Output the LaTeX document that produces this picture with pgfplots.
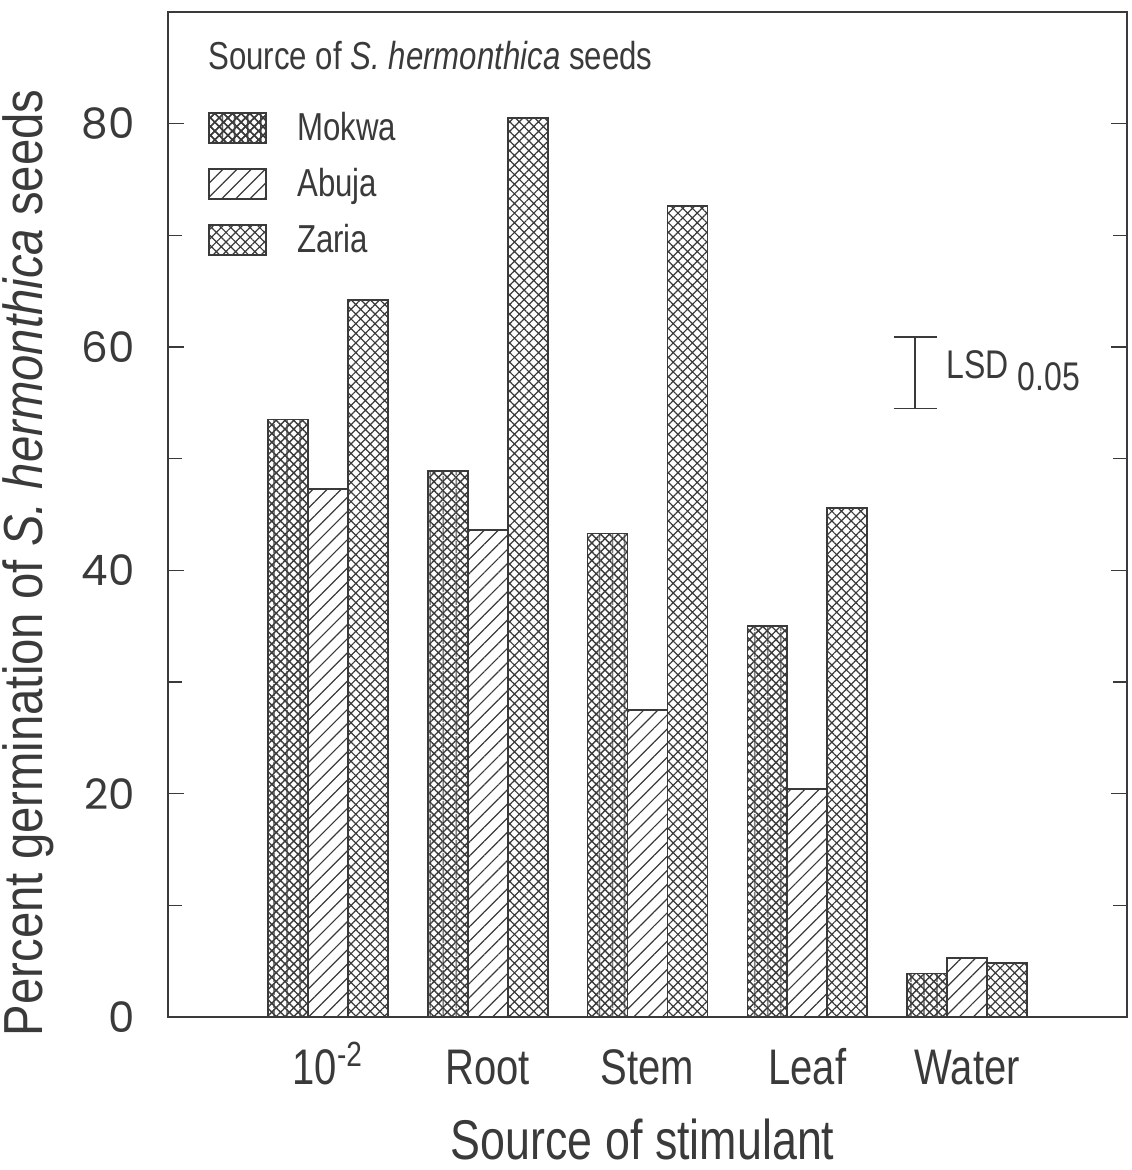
\documentclass[border=0pt]{standalone}
\usepackage{pgfplots}
\pgfplotsset{compat=1.18}
\usetikzlibrary{patterns.meta}
\usepackage{fontspec}
\setmainfont{Liberation Sans}[FakeStretch=0.8]
\newfontfamily\ylfont{Liberation Sans}[FakeStretch=0.86]
\newfontfamily\tickfont{Poppins}
\definecolor{ink}{HTML}{3A3A3A}
\pgfplotstableread{
x mokwa abuja zaria
0 53.5 47.3 64.2
1 48.9 43.6 80.5
2 43.3 27.5 72.6
3 35.0 20.4 45.6
4 3.9 5.3 4.8
}\data
\tikzset{
  mokA/.style={pattern={Hatch[angle=45,distance=3.1pt,line width=0.7pt]},pattern color=ink},
  mokB/.style={pattern={Lines[angle=90,distance=6.5pt,line width=0.7pt]},pattern color=ink},
  abu/.style={pattern={Lines[angle=45,distance=5pt,line width=0.6pt]},pattern color=ink},
  zar/.style={pattern={Hatch[angle=45,distance=3.4pt,line width=0.6pt]},pattern color=ink},
}
\begin{document}
\begin{tikzpicture}
\begin{axis}[
  name=ax,
  scale only axis,
  width=479.5pt, height=502.5pt,
  xmin=-1, xmax=5, ymin=0, ymax=90,
  xtick={0,1,2,3,4},
  xticklabels={10\textsuperscript{-2},Root,Stem,Leaf,Water},
  xtick style={draw=none},
  ytick={0,20,40,60,80},
  minor y tick num=1,
  major tick length=8pt, minor tick length=7pt,
  tick style={ink, line width=0.8pt},
  axis line style={ink, line width=1pt},
  /pgf/number format/assume math mode=true,
  xticklabel style={font=\fontsize{25}{27}\selectfont, anchor=base, yshift=-34pt, text=ink},
  yticklabel style={font=\tickfont\fontsize{21}{21}\selectfont, anchor=east, inner sep=0pt, xshift=-16.5pt, text=ink},
  xlabel={Source of stimulant},
  xlabel style={at={([yshift=-61pt]axis description cs:0.495,0)}, anchor=center, font=\fontsize{28}{30}\selectfont, text=ink},
  ylabel={Percent germination of \textit{S. hermonthica} seeds},
  ylabel style={at={([xshift=-70pt]axis description cs:0,0.452)}, anchor=center, rotate=0, font=\ylfont\fontsize{27.5}{29}\selectfont, text=ink},
  legend cell align=left,
  legend style={at={(axis description cs:0.0417,0.913)}, anchor=north west, draw=none, fill=none,
    inner sep=0pt, row sep=0pt, column sep=15pt,
    nodes={minimum height=28pt, inner sep=0pt},
    font=\fontsize{19.5}{20}\selectfont, text=ink},
]
\addplot[ybar, bar width=0.25, bar shift=-0.25, draw=ink, line width=0.9pt, mokA,
  legend image code/.code={
    \draw[mokA, draw=ink, line width=0.9pt] (0pt,-7.5pt) rectangle (28.5pt,7.5pt);
    \path[mokB] (0pt,-7.5pt) rectangle (28.5pt,7.5pt);
    \draw[draw=ink, line width=0.9pt] (0pt,-7.5pt) rectangle (28.5pt,7.5pt);}
  ] table[x=x,y=mokwa]{\data};
\addlegendentry{Mokwa}
\addplot[ybar, bar width=0.25, bar shift=-0.25, draw=ink, line width=0.9pt, mokB, forget plot] table[x=x,y=mokwa]{\data};
\addplot[ybar, bar width=0.25, bar shift=0, draw=ink, line width=0.9pt, abu,
  legend image code/.code={\draw[abu, draw=ink, line width=0.9pt] (0pt,-7.5pt) rectangle (28.5pt,7.5pt);}
  ] table[x=x,y=abuja]{\data};
\addlegendentry{Abuja}
\addplot[ybar, bar width=0.25, bar shift=0.25, draw=ink, line width=0.9pt, zar,
  legend image code/.code={\draw[zar, draw=ink, line width=0.9pt] (0pt,-7.5pt) rectangle (28.5pt,7.5pt);}
  ] table[x=x,y=zaria]{\data};
\addlegendentry{Zaria}
\node[anchor=west, inner sep=0pt, font=\fontsize{19.5}{20}\selectfont, text=ink] at (axis description cs:0.0417,0.957) {Source of \textit{S. hermonthica} seeds};
\draw[ink, line width=0.8pt] (axis cs:3.675,54.5) -- (axis cs:3.675,60.9);
\draw[ink, line width=0.8pt] (axis cs:3.54,54.5) -- (axis cs:3.81,54.5);
\draw[ink, line width=0.8pt] (axis cs:3.54,60.9) -- (axis cs:3.81,60.9);
\node[anchor=west, inner sep=0pt, font=\fontsize{20}{20}\selectfont, text=ink] at (axis cs:3.87,57.9) {LSD \raisebox{-6pt}{0.05}};
\end{axis}
\pgfresetboundingbox
\path ([shift={(-84pt,-76.5pt)}]ax.south west) rectangle ([shift={(2pt,6pt)}]ax.north east);
\end{tikzpicture}
\end{document}
